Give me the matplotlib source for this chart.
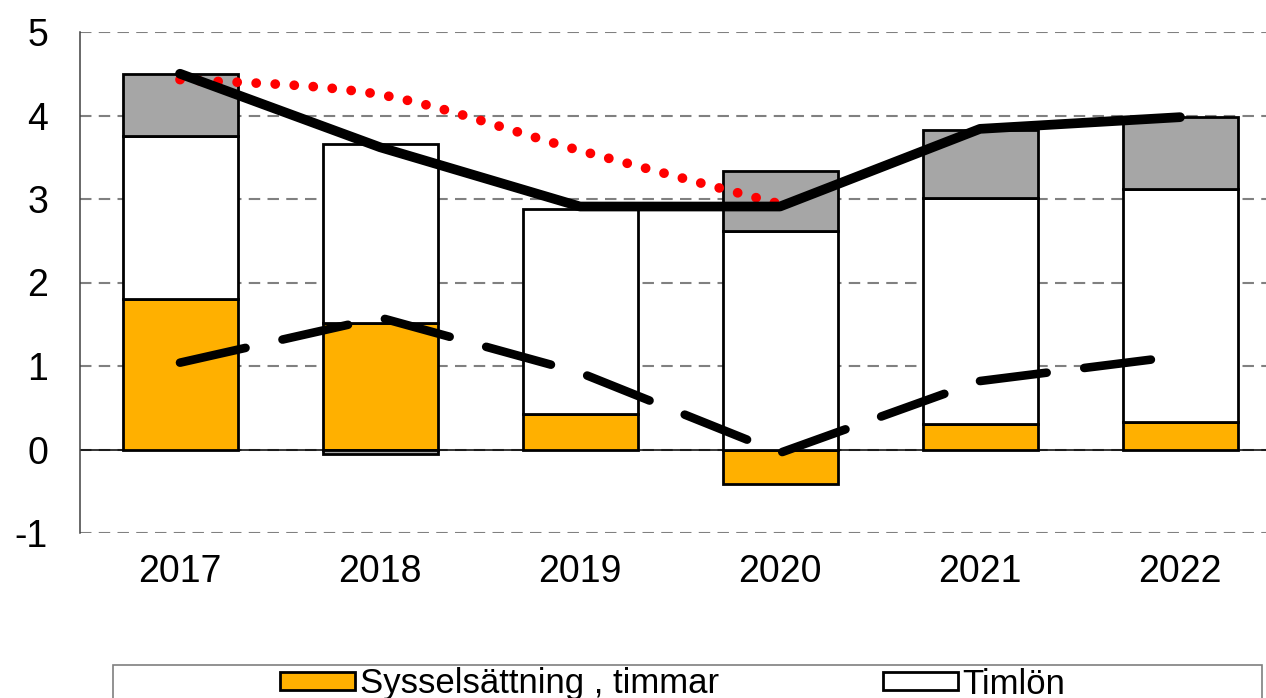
import numpy as np
import matplotlib
matplotlib.use('Agg')
import matplotlib.pyplot as plt
from matplotlib.patches import Patch, PathPatch, Rectangle
from matplotlib.path import Path

plt.rcParams['font.family'] = ['Liberation Sans', 'DejaVu Sans']
plt.rcParams['axes.unicode_minus'] = False

# Data
years = ['2017', '2018', '2019', '2020', '2021', '2022']
sysselsattning = [1.80, 1.51, 0.42, -0.41, 0.30, 0.33]
timlon = [1.95, 2.15, 2.46, 2.62, 2.71, 2.79]
ovrigt = [0.75, -0.05, 0.0, 0.71, 0.82, 0.86]
total_line = [4.50, 3.62, 2.91, 2.91, 3.84, 3.98]
dashed_line = [1.04, 1.58, 0.92, -0.04, 0.82, 1.12]
red_years = [0, 1, 2, 3]
red_line = [4.43, 4.25, 3.58, 2.94]

ORANGE = '#FFB000'
GRAY = '#A6A6A6'

W, H = 1266, 698
fig = plt.figure(figsize=(W / 100, H / 100), dpi=100)
ax = fig.add_axes([80 / W, 1 - 533 / H, 1200 / W, 501 / H])

x = np.arange(len(years))
width = 0.575
bar_kw = dict(width=width, edgecolor='black', linewidth=2.0, zorder=2)

# stacking: positives upward, negatives downward
pos_base = np.zeros(len(years))
neg_base = np.zeros(len(years))
for vals, color in [(sysselsattning, ORANGE), (timlon, 'white'), (ovrigt, GRAY)]:
    vals = np.array(vals)
    bottom = np.where(vals >= 0, pos_base, neg_base)
    mask = vals != 0
    ax.bar(x[mask], vals[mask], bottom=bottom[mask], color=color, **bar_kw)
    pos_base = pos_base + np.where(vals > 0, vals, 0)
    neg_base = neg_base + np.where(vals < 0, vals, 0)

ax.axhline(0, color='black', linewidth=1.1, zorder=1.5)

# lines
ax.plot(x, total_line, color='black', linewidth=7.0, solid_capstyle='round',
        solid_joinstyle='round', zorder=4)
ax.plot(x, dashed_line, color='black', linewidth=6.2, linestyle=(0, (7.8, 4.4)),
        dash_capstyle='round', zorder=4)

# red smoothed line (Catmull-Rom style bezier, like Excel's smoothed line)
pts = np.column_stack([red_years, red_line]).astype(float)
verts = [tuple(pts[0])]
codes = [Path.MOVETO]
n = len(pts)
for i in range(n - 1):
    p_prev = pts[max(i - 1, 0)]
    p0, p1 = pts[i], pts[i + 1]
    p_next = pts[min(i + 2, n - 1)]
    c1 = p0 + (p1 - p_prev) / 6
    c2 = p1 - (p_next - p0) / 6
    verts += [tuple(c1), tuple(c2), tuple(p1)]
    codes += [Path.CURVE4] * 3
red = PathPatch(Path(verts, codes), fill=False, edgecolor='red', linewidth=7.0,
                linestyle=(0, (0.01, 1.95)), zorder=3.5)
red.set_capstyle('round')
ax.add_patch(red)

ax.set_xlim(-0.5, 5.5)
ax.set_ylim(-1, 5)
ax.set_yticks(range(-1, 6))
ax.set_xticks(x)
ax.set_xticklabels(years)
ax.tick_params(axis='y', length=0, pad=23, labelsize=27)
ax.tick_params(axis='x', length=0, pad=15, labelsize=27)

for s in ['top', 'right', 'bottom']:
    ax.spines[s].set_visible(False)
ax.spines['left'].set_color('#404040')
ax.spines['left'].set_linewidth(1.1)

ax.yaxis.grid(True, color='#808080', linewidth=1.5, linestyle=(0, (5.5, 3.5)))
ax.set_axisbelow(True)

# legend (bottom, partly cut off like the reference)
fig.add_artist(Rectangle((113 / W, -0.05), (1262 - 113) / W, (1 - 665 / H) + 0.05,
                         transform=fig.transFigure, facecolor='white',
                         edgecolor='#7F7F7F', linewidth=1.2))
handles = [Patch(facecolor=ORANGE, edgecolor='black', linewidth=2.0),
           Patch(facecolor='white', edgecolor='black', linewidth=2.0)]
labels = ['Sysselsättning , timmar', 'Timlön']
fig.legend(handles, labels, ncol=2, frameon=False, loc='center left',
           bbox_to_anchor=(280 / W, 1 - 684 / H), fontsize=25,
           borderpad=0, borderaxespad=0, handlelength=2.16, handleheight=0.43,
           handletextpad=0.15, columnspacing=4.7)

fig.savefig('out.png', dpi=100)
